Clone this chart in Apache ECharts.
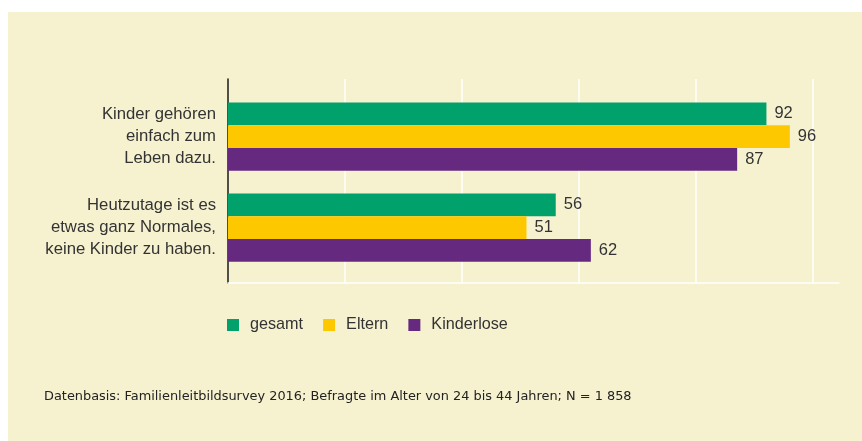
<!DOCTYPE html>
<html>
<head>
<meta charset="utf-8">
<script src="https://cdn.jsdelivr.net/npm/echarts@6/dist/echarts.min.js"></script>
<style>
    html, body { margin: 0; padding: 0; background: #ffffff; }
    #panel { position: absolute; left: 8px; top: 12px; right: 0; bottom: 0; background: #f6f2d0; }
    #chart { position: absolute; left: 0; top: 0; width: 862px; height: 441px; }
</style>
</head>
<body>
<div id="panel"></div>
<div id="chart"></div>
<script>
    // Daten
    var categories = [
        'Kinder gehören\neinfach zum\nLeben dazu.',
        'Heutzutage ist es\netwas ganz Normales,\nkeine Kinder zu haben.'
    ];
    var seriesNames = ['gesamt', 'Eltern', 'Kinderlose'];
    var gesamt = [92, 56];
    var eltern = [96, 51];
    var kinderlose = [87, 62];
    var colors = ['#00a16b', '#fec800', '#662980'];
    var note = 'Datenbasis: Familienleitbildsurvey 2016; Befragte im Alter von 24 bis 44 Jahren; N = 1 858';

    var font = '"Liberation Sans", Arial, Helvetica, sans-serif';
    var xMax = 104.4;

    function bar(name, data, color) {
        return {
            name: name,
            type: 'bar',
            xAxisIndex: 1,
            yAxisIndex: 1,
            data: data,
            barGap: '0%',
            barCategoryGap: '25%',
            itemStyle: { color: color },
            label: {
                show: true,
                position: 'right',
                distance: 8,
                color: '#333333',
                fontFamily: font,
                fontSize: 16.5
            }
        };
    }

    var chart = echarts.init(document.getElementById('chart'));
    chart.setOption({
        animation: false,
        color: colors,
        textStyle: { fontFamily: font },
        grid: [
            { left: 228, top: 79, width: 611, height: 204 },
            { left: 228, top: 91, width: 611, height: 182 }
        ],
        xAxis: [
            {
                gridIndex: 0, type: 'value', min: 0, max: xMax, interval: 20,
                axisLine: { show: true, lineStyle: { color: '#ffffff', width: 1.5 } },
                axisTick: { show: false },
                axisLabel: { show: false },
                splitLine: { show: true, showMinLine: false, showMaxLine: false, lineStyle: { color: '#ffffff', width: 1.5 } }
            },
            {
                gridIndex: 1, type: 'value', min: 0, max: xMax,
                axisLine: { show: false }, axisTick: { show: false },
                axisLabel: { show: false }, splitLine: { show: false }
            }
        ],
        yAxis: [
            {
                gridIndex: 0, type: 'category', data: categories,
                axisLine: { show: true, lineStyle: { color: '#1a1a1a', width: 1.5 } },
                axisTick: { show: false }, axisLabel: { show: false },
                splitLine: { show: false }
            },
            {
                gridIndex: 1, type: 'category', data: categories, inverse: true,
                axisLine: { show: false }, axisTick: { show: false },
                axisLabel: {
                    margin: 12,
                    align: 'right',
                    color: '#333333',
                    fontFamily: font,
                    fontSize: 16.7,
                    lineHeight: 22
                }
            }
        ],
        legend: {
            data: seriesNames,
            left: 227,
            top: 317,
            padding: 0,
            itemWidth: 12,
            itemHeight: 12,
            itemGap: 20,
            icon: 'rect',
            textStyle: { color: '#333333', fontFamily: font, fontSize: 16.2, padding: [0, 0, 0, 6] }
        },
        graphic: [{
            type: 'text',
            left: 44,
            top: 390,
            style: { text: note, fill: '#222222', font: '12.9px "DejaVu Sans", sans-serif' }
        }],
        series: [
            bar(seriesNames[0], gesamt, colors[0]),
            bar(seriesNames[1], eltern, colors[1]),
            bar(seriesNames[2], kinderlose, colors[2])
        ]
    });
</script>
</body>
</html>
